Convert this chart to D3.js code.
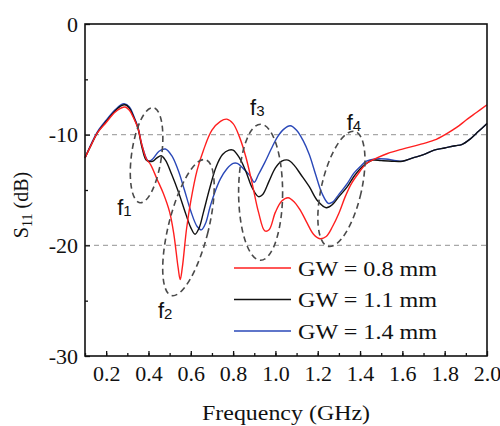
<!DOCTYPE html>
<html>
<head>
<meta charset="utf-8">
<script src="https://cdn.jsdelivr.net/npm/d3@7"></script>
<style>
  html, body { margin: 0; padding: 0; background: #fff; }
  svg text { font-family: "Liberation Serif", "Times New Roman", serif; fill: #111; }
  .lbl text, text.lbl { font-family: "Liberation Sans", Arial, sans-serif; }
</style>
</head>
<body>
<svg id="chart" width="500" height="426"></svg>
<script>
// S11 vs frequency for three ground widths
const freqRed = [0.10, 0.13, 0.16, 0.20, 0.24, 0.27, 0.29, 0.31, 0.33, 0.35, 0.37, 0.39, 0.41, 0.44, 0.47, 0.50,
    0.52, 0.54, 0.55, 0.56, 0.58, 0.60, 0.63, 0.66, 0.70, 0.74, 0.77, 0.80, 0.83, 0.86, 0.89, 0.92, 0.95, 0.97,
    1.00, 1.03, 1.06, 1.09, 1.12, 1.15, 1.18, 1.21, 1.24, 1.27, 1.30, 1.33, 1.36, 1.40, 1.43, 1.48, 1.53, 1.60,
    1.68, 1.75, 1.81, 1.86, 1.90, 1.95, 2.00];
const s11Red = [-12.1, -10.9, -9.8, -8.9, -8.0, -7.6, -7.5, -7.8, -8.5, -9.4, -11.0, -12.2, -12.7, -14.0, -15.3, -17.0,
    -19.0, -22.0, -23.1, -22.0, -18.5, -16.0, -13.2, -11.4, -9.6, -8.8, -8.6, -9.0, -10.2, -12.0, -14.4, -17.0, -18.7, -18.6,
    -17.0, -16.0, -15.7, -16.1, -16.9, -18.0, -19.0, -19.4, -19.2, -18.3, -17.1, -15.6, -14.4, -13.3, -12.6, -12.1, -11.7, -11.3,
    -10.9, -10.5, -9.9, -9.3, -8.7, -8.0, -7.3];

const freqBlack = [0.10, 0.13, 0.16, 0.20, 0.24, 0.27, 0.29, 0.31, 0.33, 0.35, 0.37, 0.39, 0.42, 0.44, 0.46, 0.48,
    0.51, 0.54, 0.57, 0.60, 0.62, 0.64, 0.66, 0.69, 0.72, 0.75, 0.78, 0.80, 0.83, 0.86, 0.89, 0.92, 0.94, 0.97,
    1.00, 1.03, 1.06, 1.09, 1.12, 1.16, 1.20, 1.24, 1.27, 1.30, 1.34, 1.37, 1.40, 1.43, 1.46, 1.50, 1.55, 1.60,
    1.65, 1.70, 1.75, 1.80, 1.85, 1.88, 1.92, 1.96, 2.00];
const s11Black = [-12.1, -10.9, -9.8, -8.8, -7.9, -7.4, -7.3, -7.6, -8.4, -9.4, -11.2, -12.3, -12.4, -12.1, -11.9, -12.3,
    -13.6, -15.1, -16.8, -18.4, -19.0, -18.4, -17.0, -14.8, -12.9, -11.8, -11.4, -11.4, -12.1, -13.3, -14.8, -15.6, -15.4, -14.2,
    -13.0, -12.4, -12.3, -12.8, -13.6, -14.7, -16.0, -16.6, -16.3, -15.6, -14.7, -13.8, -13.1, -12.6, -12.3, -12.35, -12.4, -12.4,
    -12.1, -11.8, -11.4, -11.2, -11.0, -10.9, -10.4, -9.7, -9.0];

const freqBlue = [0.10, 0.13, 0.16, 0.20, 0.24, 0.27, 0.285, 0.31, 0.33, 0.35, 0.37, 0.40, 0.42, 0.45, 0.48, 0.51,
    0.54, 0.57, 0.60, 0.63, 0.65, 0.67, 0.69, 0.71, 0.74, 0.77, 0.80, 0.82, 0.85, 0.88, 0.90, 0.92, 0.95, 0.98,
    1.01, 1.04, 1.07, 1.10, 1.13, 1.16, 1.19, 1.22, 1.25, 1.27, 1.30, 1.34, 1.37, 1.40, 1.43, 1.47, 1.52, 1.57,
    1.60, 1.65, 1.70, 1.75, 1.80, 1.85, 1.88, 1.92, 1.96, 2.00];
const s11Blue = [-12.1, -10.8, -9.7, -8.7, -7.8, -7.3, -7.2, -7.5, -8.3, -9.3, -11.0, -12.4, -12.2, -11.5, -11.3, -11.9,
    -13.2, -15.0, -16.9, -18.3, -18.6, -18.0, -16.6, -15.4, -14.0, -13.1, -12.6, -12.6, -13.1, -13.7, -14.3, -13.6, -12.5, -11.3,
    -10.2, -9.5, -9.2, -9.6, -10.5, -11.8, -13.6, -15.3, -16.2, -16.1, -15.4, -14.4, -13.5, -12.9, -12.4, -12.2, -12.2, -12.35,
    -12.4, -12.1, -11.8, -11.4, -11.2, -11.0, -10.9, -10.4, -9.7, -9.0];

const seriesNames = ['GW = 0.8 mm', 'GW = 1.1 mm', 'GW = 1.4 mm'];
const seriesColors = ['#ff1f1f', '#111111', '#2a48b8'];

const xTicks = [0.2, 0.4, 0.6, 0.8, 1.0, 1.2, 1.4, 1.6, 1.8, 2.0];
const xMinorTicks = d3.range(1, 20).map(i => i / 10);
const yTicks = [0, -10, -20, -30];
const yMinorTicks = [-5, -15, -25];
const gridValues = [-10, -20];

// dashed resonance ellipses: centre (GHz, dB), radii in px, rotation deg
const markNames = ['1', '2', '3', '4'];
const markCenterF = [0.391, 0.589, 0.930, 1.312];
const markCenterDb = [-11.85, -18.4, -15.2, -14.9];
const markRx = [15, 20, 22, 20];
const markRy = [48, 70, 68, 59];
const markRot = [8, 14, 0, 13];
const labelF = [0.252, 0.445, 0.880, 1.337];
const labelDb = [-17.3, -26.6, -8.2, -9.6];

const width = 500, height = 426;
const margin = { top: 24, right: 13, bottom: 70, left: 85 };

const svg = d3.select('#chart');

const x = d3.scaleLinear().domain([0.1, 2.0]).range([margin.left, width - margin.right]);
const y = d3.scaleLinear().domain([-30, 0]).range([height - margin.bottom, margin.top]);

// grid lines
svg.append('g')
    .selectAll('line')
    .data(gridValues)
    .join('line')
    .attr('x1', x(0.1)).attr('x2', x(2.0))
    .attr('y1', d => y(d)).attr('y2', d => y(d))
    .attr('stroke', '#a8a8a8')
    .attr('stroke-width', 1.2)
    .attr('stroke-dasharray', '5,4');

// curves
const line = d3.line()
    .x(d => x(d[0]))
    .y(d => y(d[1]))
    .curve(d3.curveCatmullRom.alpha(0.5));

const series = [
    d3.zip(freqRed, s11Red),
    d3.zip(freqBlack, s11Black),
    d3.zip(freqBlue, s11Blue)
];

// blue under black under red, as in the figure
[2, 1, 0].forEach(i => {
    svg.append('path')
        .datum(series[i])
        .attr('fill', 'none')
        .attr('stroke', seriesColors[i])
        .attr('stroke-width', 1.4)
        .attr('d', line);
});

// dashed ellipses
const marks = markNames.map((n, i) => ({
    cx: x(markCenterF[i]), cy: y(markCenterDb[i]),
    rx: markRx[i], ry: markRy[i], rot: markRot[i]
}));
svg.append('g')
    .selectAll('ellipse')
    .data(marks)
    .join('ellipse')
    .attr('transform', d => 'translate(' + d.cx + ',' + d.cy + ') rotate(' + d.rot + ')')
    .attr('rx', d => d.rx)
    .attr('ry', d => d.ry)
    .attr('fill', 'none')
    .attr('stroke', '#4a4a4a')
    .attr('stroke-width', 1.6)
    .attr('stroke-dasharray', '6,4');

const lbl = svg.append('g').attr('class', 'lbl')
    .selectAll('text')
    .data(markNames)
    .join('text')
    .attr('x', (d, i) => x(labelF[i]))
    .attr('y', (d, i) => y(labelDb[i]))
    .attr('font-size', 22);
lbl.append('tspan').text('f');
lbl.append('tspan').attr('font-size', 15).attr('dy', 1).text(d => d);

// axes (ticks point inwards)
const plotBottom = y(-30);
const xAxis = svg.append('g')
    .attr('transform', 'translate(0,' + plotBottom + ')')
    .call(d3.axisBottom(x).tickValues(xTicks).tickFormat(d3.format('.1f'))
        .tickSize(-5).tickPadding(9));
svg.append('g')
    .attr('transform', 'translate(0,' + plotBottom + ')')
    .call(d3.axisBottom(x).tickValues(xMinorTicks).tickFormat('').tickSize(-3));
const yAxis = svg.append('g')
    .attr('transform', 'translate(' + x(0.1) + ',0)')
    .call(d3.axisLeft(y).tickValues(yTicks).tickFormat(d => String(d))
        .tickSize(-5).tickPadding(7));
svg.append('g')
    .attr('transform', 'translate(' + x(0.1) + ',0)')
    .call(d3.axisLeft(y).tickValues(yMinorTicks).tickFormat('').tickSize(-3));

svg.selectAll('.domain').remove();
svg.selectAll('.tick line').attr('stroke', '#111').attr('stroke-width', 1.3);
svg.selectAll('.tick text')
    .attr('font-family', '"Liberation Serif", "Times New Roman", serif')
    .attr('font-size', 22)
    .attr('fill', '#111');

// frame
svg.append('rect')
    .attr('x', x(0.1)).attr('y', y(0))
    .attr('width', x(2.0) - x(0.1))
    .attr('height', y(-30) - y(0))
    .attr('fill', 'none')
    .attr('stroke', '#111')
    .attr('stroke-width', 1.6);

// legend
const legend = svg.append('g').attr('transform', 'translate(234,268)');
seriesNames.forEach((name, i) => {
    const row = legend.append('g').attr('transform', 'translate(0,' + (i * 31.5) + ')');
    row.append('line')
        .attr('x1', 0).attr('x2', 57)
        .attr('stroke', seriesColors[i])
        .attr('stroke-width', 1.6);
    row.append('text')
        .attr('x', 64).attr('y', 7.5)
        .attr('font-size', 22)
        .attr('textLength', 139)
        .attr('lengthAdjust', 'spacingAndGlyphs')
        .text(name);
});

// axis titles
svg.append('text')
    .attr('x', (x(0.1) + x(2.0)) / 2)
    .attr('y', 420)
    .attr('text-anchor', 'middle')
    .attr('font-size', 20)
    .attr('textLength', 168)
    .attr('lengthAdjust', 'spacingAndGlyphs')
    .text('Frequency (GHz)');

const yTitle = svg.append('text')
    .attr('transform', 'translate(28,205) rotate(-90)')
    .attr('text-anchor', 'middle')
    .attr('font-size', 20);
yTitle.append('tspan').text('S');
yTitle.append('tspan').attr('font-size', 14).attr('dy', 4).text('11');
yTitle.append('tspan').attr('dy', -4).text(' (dB)');
</script>
</body>
</html>
